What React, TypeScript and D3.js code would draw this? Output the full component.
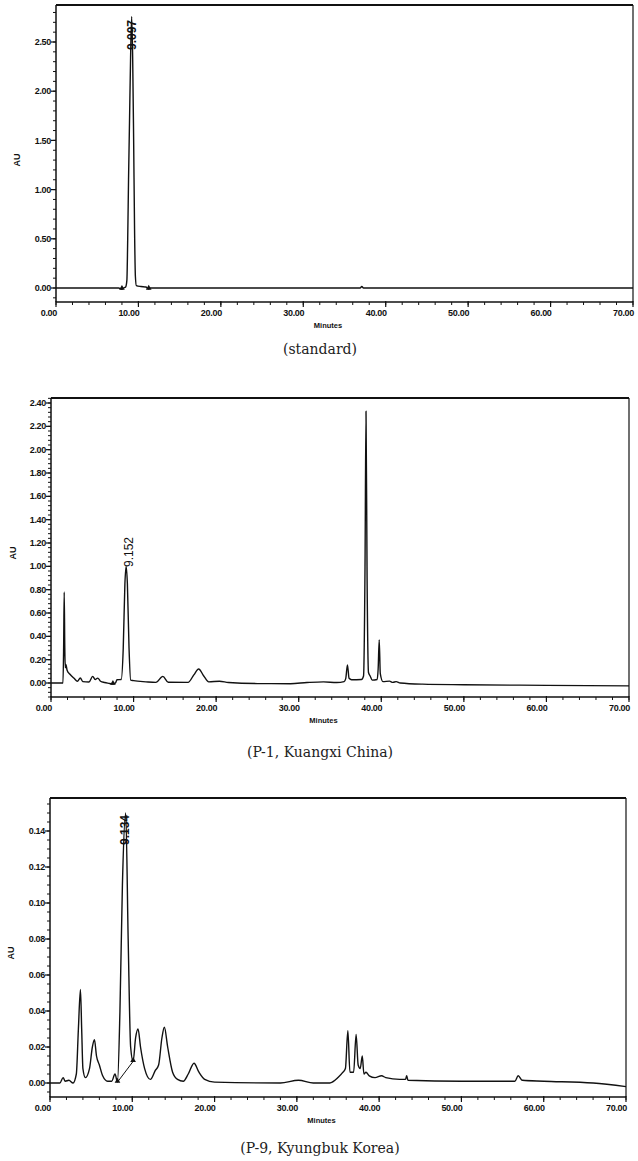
import React from 'react';
import * as d3 from 'd3';

type Pt = [number, number];

const X_TICKS = [0, 10, 20, 30, 40, 50, 60, 70];
const STD_Y_TICKS = [0, 0.5, 1.0, 1.5, 2.0, 2.5];
const P1_Y_TICKS = [0, 0.2, 0.4, 0.6, 0.8, 1.0, 1.2, 1.4, 1.6, 1.8, 2.0, 2.2, 2.4];
const P9_Y_TICKS = [0, 0.02, 0.04, 0.06, 0.08, 0.1, 0.12, 0.14];

const CAPTIONS = ['(standard)', '(P-1, Kuangxi China)', '(P-9, Kyungbuk Korea)'];
const PEAK_LABELS = ['9.097', '9.152', '9.134'];
const PEAK_TIMES = [9.18, 9.1, 9.2];

// (minutes, AU)
const STD_TRACE: Pt[] = [
  [0, 0], [7.6, 0], [8.0, -0.012], [8.2, 0.0], [8.45, 0.01], [8.6, 0.08], [8.7, 0.5],
  [8.8, 1.1], [8.92, 1.7], [9.05, 2.35], [9.18, 2.76], [9.3, 2.35], [9.42, 1.5],
  [9.53, 0.6], [9.63, 0.12], [9.75, 0.025], [10.3, 0.015], [10.9, 0.01], [11.25, -0.01],
  [11.45, 0.0], [36.9, 0.0], [37.1, 0.015], [37.3, 0.0], [70, 0.0],
];

// P-1, Kuangxi China
const P1_TRACE: Pt[] = [
  [0, 0], [1.45, 0], [1.53, 0.3], [1.6, 0.78], [1.67, 0.3], [1.73, 0.13], [1.8, 0.16],
  [1.95, 0.11], [2.3, 0.075], [2.8, 0.04], [3.2, 0.015], [3.55, 0.043], [3.85, 0.012],
  [4.6, 0.008], [5.05, 0.057], [5.35, 0.03], [5.66, 0.042], [6.0, 0.015], [6.5, 0.004],
  [7.1, -0.004], [7.5, -0.01], [7.8, 0.0], [8.0, 0.028], [8.5, 0.03], [8.75, 0.3],
  [8.95, 0.85], [9.1, 1.0], [9.25, 0.85], [9.45, 0.3], [9.65, 0.025], [10.0, 0.02],
  [11.5, 0.01], [12.7, 0.005], [13.55, 0.057], [14.2, 0.006], [16.6, 0.005],
  [17.3, 0.07], [17.88, 0.12], [18.5, 0.06], [19.1, 0.01], [20.4, 0.015], [21.5, 0.004],
  [25, -0.005], [29, -0.006], [31, 0.004], [33, 0.01], [34.6, 0.004], [35.5, 0.012],
  [35.7, 0.04], [35.9, 0.155], [36.1, 0.04], [36.4, 0.028], [37.6, 0.03], [37.85, 0.06],
  [38.03, 1.0], [38.15, 2.33], [38.28, 0.9], [38.45, 0.09], [38.65, 0.06], [38.9, 0.025],
  [39.5, 0.03], [39.62, 0.12], [39.75, 0.37], [39.88, 0.08], [40.2, 0.012],
  [41.0, 0.016], [41.4, 0.005], [41.8, 0.012], [42.3, 0.0], [45, -0.01], [50, -0.015],
  [60, -0.02], [70, -0.025],
];

// P-9, Kyungbuk Korea
const P9_TRACE: Pt[] = [
  [0, 0], [1.2, 0], [1.6, 0.003], [1.85, 0.001], [2.3, 0.0015], [2.8, 0.0], [3.2, 0.005],
  [3.45, 0.03], [3.7, 0.052], [3.85, 0.03], [4.0, 0.008], [4.3, 0.003], [4.8, 0.008],
  [5.15, 0.02], [5.4, 0.024], [5.65, 0.015], [6.0, 0.01], [6.4, 0.004], [7.0, 0.001],
  [7.5, 0.001], [7.9, 0.005], [8.2, 0.0005], [8.5, 0.04], [8.8, 0.11], [9.2, 0.15],
  [9.5, 0.08], [9.8, 0.02], [10.1, 0.012], [10.4, 0.025], [10.7, 0.03], [11.0, 0.02],
  [11.5, 0.008], [12.2, 0.002], [12.8, 0.007], [13.2, 0.01], [13.6, 0.025], [13.9, 0.031],
  [14.3, 0.02], [14.9, 0.006], [15.5, 0.002], [16.2, 0.001], [16.8, 0.005], [17.5, 0.011],
  [18.1, 0.006], [18.8, 0.002], [20, 0.0005], [28, 0.0], [30.2, 0.0015], [32, 0.0],
  [34, 0.0], [35, 0.003], [35.6, 0.006], [35.9, 0.008], [36.2, 0.029], [36.45, 0.006],
  [36.9, 0.006], [37.2, 0.027], [37.45, 0.01], [37.7, 0.008], [37.95, 0.015], [38.15, 0.005],
  [38.4, 0.006], [38.8, 0.004], [39.5, 0.003], [40.3, 0.004], [40.8, 0.003], [42.5, 0.002],
  [43.2, 0.002], [43.35, 0.004], [43.5, 0.0015], [50, 0.001], [56.5, 0.001], [56.9, 0.004],
  [57.4, 0.0015], [60, 0.001], [66, 0.0], [70, -0.002],
];

const STD_MARKS: Pt[] = [[8.0, -0.012], [11.25, -0.01]];
const P1_MARKS: Pt[] = [[7.5, -0.01]];
const P9_MARKS: Pt[] = [[8.2, 0.0005], [10.1, 0.012]];
const P9_BASELINE: Pt[] = [[8.2, 0.0005], [10.1, 0.012]];

const PANELS = [
  { left: 56, right: 633, top: 5, axisY: 302, yRef: [0, 2.5], yRefPx: [288, 42], minor: 0.1,
    ticks: STD_Y_TICKS, trace: STD_TRACE, marks: STD_MARKS, base: [] as Pt[], au: [17, 160],
    caption: CAPTIONS[0], captionY: 354, label: PEAK_LABELS[0], peakT: PEAK_TIMES[0],
    labelBottom: 50, labelDx: 4, labelBold: true, labelSize: 12 },
  { left: 51, right: 629, top: 398, axisY: 697, yRef: [0, 2.4], yRefPx: [683, 403], minor: 0.04,
    ticks: P1_Y_TICKS, trace: P1_TRACE, marks: P1_MARKS, base: [] as Pt[], au: [13, 553],
    caption: CAPTIONS[1], captionY: 757, label: PEAK_LABELS[1], peakT: PEAK_TIMES[1],
    labelBottom: 567, labelDx: 7, labelBold: false, labelSize: 12 },
  { left: 50, right: 626, top: 798, axisY: 1097, yRef: [0, 0.14], yRefPx: [1083, 831], minor: 0.005,
    ticks: P9_Y_TICKS, trace: P9_TRACE, marks: P9_MARKS, base: P9_BASELINE, au: [11, 953],
    caption: CAPTIONS[2], captionY: 1153, label: PEAK_LABELS[2], peakT: PEAK_TIMES[2],
    labelBottom: 845, labelDx: 3, labelBold: true, labelSize: 12 },
];

const fmt = d3.format('.2f');
const SANS = 'Liberation Sans, Arial, sans-serif';

function Panel({ p }: { p: typeof PANELS[number] }) {
  const x = d3.scaleLinear().domain([0, 70]).range([p.left, p.right]);
  const y = d3.scaleLinear().domain(p.yRef).range(p.yRefPx);
  const vBottom = y.invert(p.axisY);
  const vTop = y.invert(p.top);
  const minorY = d3
    .range(Math.ceil(vBottom / p.minor - 1e-6), Math.floor(vTop / p.minor + 1e-6) + 1)
    .map((i) => i * p.minor);
  const minorX = d3.range(0, 71, 2);
  const line = d3.line<Pt>().x((d) => x(d[0])).y((d) => y(d[1])).curve(d3.curveMonotoneX);
  const straight = d3.line<Pt>().x((d) => x(d[0])).y((d) => y(d[1]));
  const tri = d3.symbol().type(d3.symbolTriangle).size(14)();
  const lx = x(p.peakT) + p.labelDx;
  return (
    <g>
      {/* frame */}
      <line x1={p.left} x2={p.right} y1={p.top} y2={p.top} stroke="#111" strokeWidth={1.8} />
      <line x1={p.right} x2={p.right} y1={p.top} y2={p.axisY} stroke="#111" strokeWidth={1.2} />
      <line x1={p.left} x2={p.left} y1={p.top} y2={p.axisY} stroke="#111" strokeWidth={1.5} />
      <line x1={p.left} x2={p.right} y1={p.axisY} y2={p.axisY} stroke="#111" strokeWidth={1.3} />
      {/* y minor ticks */}
      {minorY.map((v, i) => (
        <line key={'ym' + i} x1={p.left - 3} x2={p.left} y1={y(v)} y2={y(v)} stroke="#111" strokeWidth={1} />
      ))}
      {p.ticks.map((v, i) => (
        <g key={'yt' + i}>
          <line x1={p.left - 5} x2={p.left} y1={y(v)} y2={y(v)} stroke="#111" strokeWidth={1.2} />
          <text x={p.left - 5} y={y(v)} dy="0.35em" textAnchor="end" fontFamily={SANS}
            fontWeight="bold" fontSize={9} fill="#111" letterSpacing={-0.3}>{fmt(v)}</text>
        </g>
      ))}
      {/* x ticks */}
      {minorX.map((t, i) => (
        <line key={'xm' + i} x1={x(t)} x2={x(t)} y1={p.axisY} y2={p.axisY + 3} stroke="#111" strokeWidth={1} />
      ))}
      {X_TICKS.map((t, i) => (
        <g key={'xt' + i}>
          <line x1={x(t)} x2={x(t)} y1={p.axisY - 1} y2={p.axisY + 5} stroke="#111" strokeWidth={1.2} />
          <text x={x(t) + 1} y={p.axisY + 14} textAnchor="end" fontFamily={SANS}
            fontWeight="bold" fontSize={9} fill="#111" letterSpacing={-0.3}>{fmt(t)}</text>
        </g>
      ))}
      <text x={x(33)} y={p.axisY + 26} textAnchor="middle" fontFamily={SANS} fontWeight="bold"
        fontSize={7.5} fill="#111">Minutes</text>
      <text transform={`translate(${p.au[0] + 3},${p.au[1]}) rotate(-90)`} textAnchor="middle"
        fontFamily={SANS} fontWeight="bold" fontSize={9} fill="#111">AU</text>
      {/* trace */}
      {p.base.length > 0 && (
        <path d={straight(p.base) || ''} fill="none" stroke="#111" strokeWidth={1} />
      )}
      <path d={line(p.trace) || ''} fill="none" stroke="#111" strokeWidth={1.4} strokeLinejoin="round" />
      {p.marks.map((m, i) => (
        <path key={'mk' + i} d={tri || ''} transform={`translate(${x(m[0])},${y(m[1]) - 1})`} fill="#111" />
      ))}
      <text transform={`translate(${lx},${p.labelBottom}) rotate(-90)`} textAnchor="start"
        fontFamily={SANS} fontWeight={p.labelBold ? 'bold' : 'normal'} fontSize={p.labelSize}
        fill="#111">{p.label}</text>
      {/* caption */}
      <text x={320} y={p.captionY} textAnchor="middle" fontFamily="DejaVu Serif, serif"
        fontSize={14} fill="#222">{p.caption}</text>
    </g>
  );
}

export default function App() {
  return (
    <svg width={638} height={1161} viewBox="0 0 638 1161"
      style={{ position: 'absolute', left: 0, top: 0, background: '#fff' }}>
      <rect x={0} y={0} width={638} height={1161} fill="#fff" />
      {PANELS.map((p, i) => (
        <Panel key={i} p={p} />
      ))}
    </svg>
  );
}
